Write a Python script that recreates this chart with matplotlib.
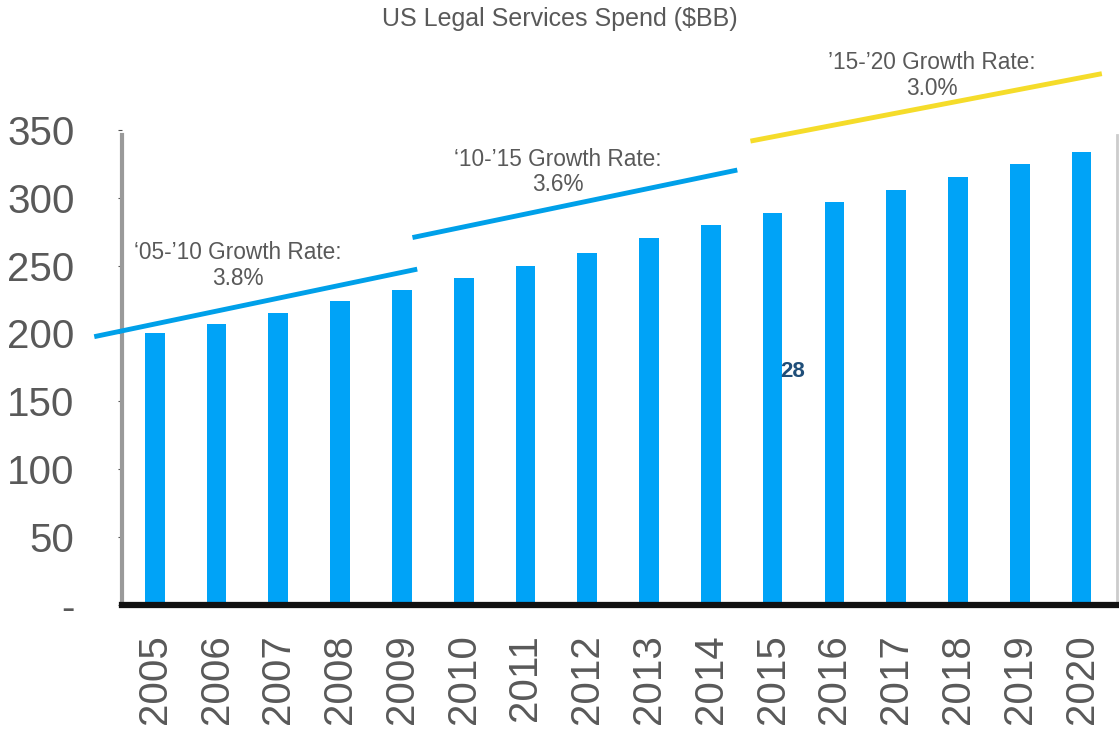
import matplotlib
matplotlib.use("Agg")
import matplotlib.pyplot as plt
import numpy as np

plt.rcParams['font.family'] = ['Liberation Sans', 'DejaVu Sans']

years = ['2005', '2006', '2007', '2008', '2009', '2010', '2011', '2012',
         '2013', '2014', '2015', '2016', '2017', '2018', '2019', '2020']
spend = [200, 207, 215, 224, 232, 241, 250, 259, 270, 280, 289, 297, 306, 315, 325, 334]

yticks = [0, 50, 100, 150, 200, 250, 300, 350]
ytick_labels = ['-', '50', '100', '150', '200', '250', '300', '350']

# growth trend lines: (x0, x1, y0, y1) in bar-index / $BB units
trend_x = [(-0.94, 4.21), (4.21, 9.39), (9.68, 15.29)]
trend_y = [(198, 247), (271, 320), (342, 391)]
trend_colors = ['#00A0E9', '#00A0E9', '#F5DC2A']
growth_labels = ["\u201805-\u201910 Growth Rate:\n3.8%",
                 "\u201810-\u201915 Growth Rate:\n3.6%",
                 "\u201915-\u201920 Growth Rate:\n3.0%"]
label_pos = [(1.34, 250), (6.52, 319), (12.57, 390)]

text_gray = '#595959'
bar_color = '#00A3F7'

fig = plt.figure(figsize=(11.19, 7.30), dpi=100)
ax = fig.add_axes([0.109, 0.1712, 0.889, 0.651])

x = np.arange(len(years))
ax.bar(x, spend, width=0.32, color=bar_color, zorder=2)

for (xs, ys, c) in zip(trend_x, trend_y, trend_colors):
    ax.plot(xs, ys, color=c, linewidth=3.5, clip_on=False, zorder=3)

for txt, (lx, ly) in zip(growth_labels, label_pos):
    ax.text(lx, ly, txt, ha='center', va='center', fontsize=16.3,
            color=text_gray, linespacing=1.12)

ax.text(10.33, 172, '28', ha='center', va='center', fontsize=16,
        fontweight='bold', color='#1F4E79')

ax.set_xlim(-0.53, 15.57)
ax.set_ylim(0, 350)
ax.set_xticks(x)
ax.set_xticklabels(years, rotation=90, fontsize=29, color=text_gray)
ax.set_yticks(yticks)
ax.set_yticklabels(ytick_labels, fontsize=29, color=text_gray)
ax.tick_params(axis='y', length=3, pad=31, color='#555555')
ax.tick_params(axis='x', length=0, pad=21)

ax.spines['top'].set_visible(False)
ax.spines['left'].set_bounds(0, 346)
ax.spines['left'].set_color('#9a9a9a')
ax.spines['left'].set_linewidth(3)
ax.spines['right'].set_bounds(0, 346)
ax.spines['right'].set_color('#cccccc')
ax.spines['right'].set_linewidth(2)
ax.spines['bottom'].set_color('#111111')
ax.spines['bottom'].set_linewidth(4.5)

fig.text(0.5, 0.99, 'US Legal Services Spend ($BB)', ha='center', va='top',
         fontsize=18, color=text_gray)

fig.savefig('out.png', dpi=100)
